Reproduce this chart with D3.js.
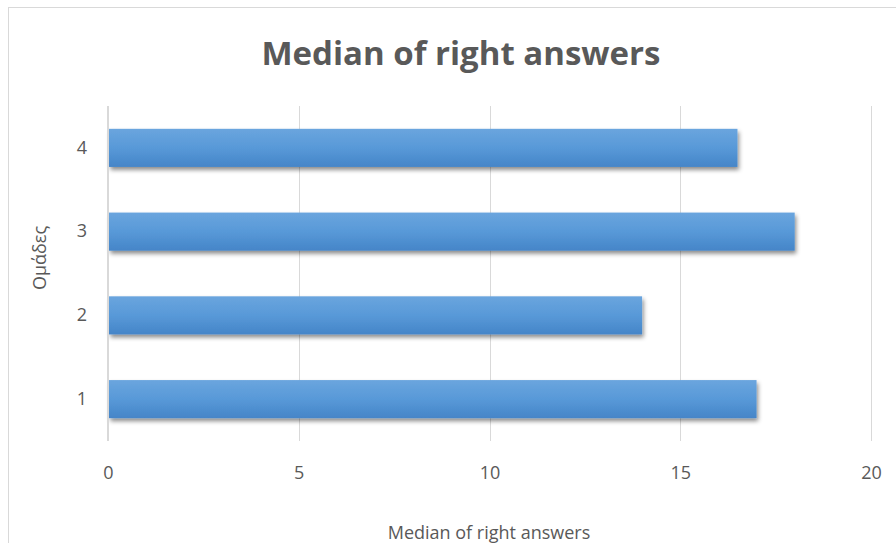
<!DOCTYPE html>
<html>
<head>
<meta charset="utf-8">
<script src="https://cdn.jsdelivr.net/npm/d3@7/dist/d3.min.js"></script>
<style>
  html, body { margin: 0; padding: 0; background: #fff; }
  svg { display: block; }
</style>
</head>
<body>
<svg id="chart" width="896" height="543"></svg>
<script>
// Groups and their median number of right answers
const groups = ["1", "2", "3", "4"];
const medians = [17, 14, 18, 16.5];
const xTicks = [0, 5, 10, 15, 20];

const titleText = "Median of right answers";
const xTitle = "Median of right answers";
const yTitle = "Ομάδες";

const W = 896, H = 543;
const margin = { left: 108, right: 25, top: 106, bottom: 102 };
const font = "'Open Sans', 'Noto Sans', sans-serif";
const textColor = "#595959";

const svg = d3.select("#chart");

// Outer chart frame
svg.append("rect")
  .attr("x", 8.5).attr("y", 7.5)
  .attr("width", W).attr("height", H)
  .attr("fill", "#fff").attr("stroke", "#d9d9d9").attr("stroke-width", 1);

const x = d3.scaleLinear().domain([0, 20]).range([margin.left, W - margin.right]);
const y = d3.scaleBand()
  .domain(groups.slice().reverse())
  .range([margin.top, H - margin.bottom])
  .paddingInner(0.545).paddingOuter(0.2725);

const defs = svg.append("defs");
const grad = defs.append("linearGradient").attr("id", "barFill")
  .attr("x1", 0).attr("y1", 0).attr("x2", 0).attr("y2", 1);
grad.append("stop").attr("offset", "0%").attr("stop-color", "#6aa5de");
grad.append("stop").attr("offset", "50%").attr("stop-color", "#5899d8");
grad.append("stop").attr("offset", "100%").attr("stop-color", "#4585c8");

const shadow = defs.append("filter").attr("id", "barShadow")
  .attr("x", "-5%").attr("y", "-30%").attr("width", "115%").attr("height", "170%");
shadow.append("feDropShadow")
  .attr("dx", 1.5).attr("dy", 3).attr("stdDeviation", 2)
  .attr("flood-color", "#000").attr("flood-opacity", 0.45);

// Vertical gridlines
svg.append("g")
  .selectAll("line")
  .data(xTicks.filter(d => d > 0))
  .join("line")
  .attr("x1", d => Math.round(x(d)) + 0.5).attr("x2", d => Math.round(x(d)) + 0.5)
  .attr("y1", margin.top).attr("y2", H - margin.bottom)
  .attr("stroke", "#d9d9d9").attr("stroke-width", 1);

// Bars
svg.append("g")
  .selectAll("rect")
  .data(groups.map((g, i) => ({ g, v: medians[i] })))
  .join("rect")
  .attr("x", x(0) + 1)
  .attr("y", d => y(d.g))
  .attr("width", d => x(d.v) - x(0) - 1)
  .attr("height", y.bandwidth())
  .attr("fill", "url(#barFill)")
  .attr("filter", "url(#barShadow)");

// Category axis line
svg.append("line")
  .attr("x1", x(0)).attr("x2", x(0))
  .attr("y1", margin.top).attr("y2", H - margin.bottom)
  .attr("stroke", "#d9d9d9").attr("stroke-width", 2);

// X axis tick labels
const xAxis = d3.axisBottom(x).tickValues(xTicks).tickSize(0).tickPadding(0);
const gx = svg.append("g")
  .attr("transform", `translate(0,${H - margin.bottom + 25})`)
  .call(xAxis);
gx.select(".domain").remove();
gx.selectAll("text")
  .attr("dy", "0.71em")
  .attr("font-family", font).attr("font-size", 18).attr("fill", textColor);

// Y axis tick labels
const yAxis = d3.axisLeft(y).tickSize(0).tickPadding(0);
const gy = svg.append("g")
  .attr("transform", `translate(${margin.left - 21},0)`)
  .call(yAxis);
gy.select(".domain").remove();
gy.selectAll("text")
  .attr("font-family", font).attr("font-size", 18).attr("fill", textColor);

// Title
svg.append("text")
  .attr("x", 461).attr("y", 65)
  .attr("text-anchor", "middle")
  .attr("font-family", font).attr("font-weight", 700)
  .attr("font-size", 33).attr("fill", textColor)
  .text(titleText);

// Axis titles
svg.append("text")
  .attr("x", 489).attr("y", 539)
  .attr("text-anchor", "middle")
  .attr("font-family", font).attr("font-size", 18).attr("fill", textColor)
  .text(xTitle);

svg.append("text")
  .attr("transform", "translate(46,258) rotate(-90)")
  .attr("text-anchor", "middle")
  .attr("font-family", font).attr("font-size", 18).attr("fill", textColor)
  .text(yTitle);
</script>
</body>
</html>
